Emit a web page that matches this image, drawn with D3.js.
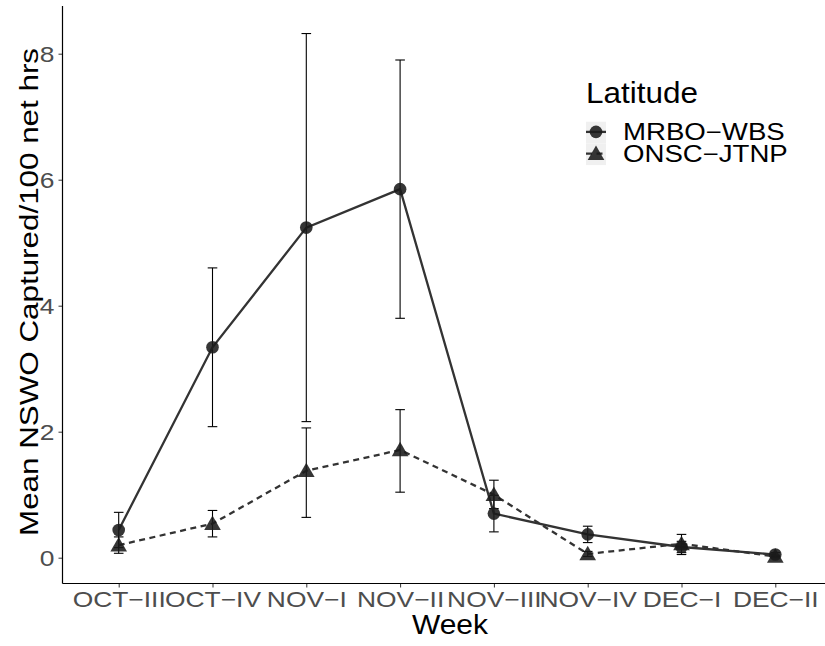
<!DOCTYPE html>
<html><head><meta charset="utf-8">
<script src="https://cdn.jsdelivr.net/npm/d3@7"></script>
<style>body{margin:0;background:#fff}svg{display:block}text{font-family:"Liberation Sans",Arial,Helvetica,sans-serif}</style>
</head><body>
<script>
const weeks = ["OCT\u2212III","OCT\u2212IV","NOV\u2212I","NOV\u2212II","NOV\u2212III","NOV\u2212IV","DEC\u2212I","DEC\u2212II"];
const seriesNames = ["MRBO\u2212WBS","ONSC\u2212JTNP"];
const mrboMean = [0.44, 3.34, 5.24, 5.85, 0.70, 0.37, 0.17, 0.05];
const mrboLow  = [0.16, 2.08, 2.16, 3.80, 0.41, 0.24, 0.08, 0.02];
const mrboHigh = [0.72, 4.60, 8.32, 7.90, 0.99, 0.50, 0.26, 0.08];
const onscMean = [0.20, 0.54, 1.38, 1.71, 1.00, 0.06, 0.22, 0.02];
const onscLow  = [0.07, 0.33, 0.64, 1.04, 0.78, 0.02, 0.05, 0.00];
const onscHigh = [0.33, 0.75, 2.06, 2.35, 1.23, 0.10, 0.37, 0.04];
const yTicks = [0, 2, 4, 6, 8];

const W = 825, H = 646;
const SX = 1.2; // horizontal stretch of the reference typeface
const svg = d3.select("body").append("svg").attr("width", W).attr("height", H);

const panel = {left: 62.5, right: 831.5, top: 6, bottom: 583.5};
const x = d3.scalePoint().domain(weeks).range([118.7, 775.3]);
const y = d3.scaleLinear().domain([0, 8]).range([557.7, 53.7]);

const series = [
  {name: seriesNames[0], mean: mrboMean, lo: mrboLow, hi: mrboHigh, dash: null, shape: d3.symbolCircle, size: 125},
  {name: seriesNames[1], mean: onscMean, lo: onscLow, hi: onscHigh, dash: "6,4.5", shape: d3.symbolTriangle, size: 120}
];

// axes
const xAxis = d3.axisBottom(x).tickSize(4).tickPadding(3);
const gx = svg.append("g").attr("transform", `translate(0,${panel.bottom})`).call(xAxis);
gx.select(".domain").remove();
gx.selectAll(".tick line").attr("stroke", "#333").attr("stroke-width", 1);
gx.selectAll(".tick text").attr("fill", "#4d4d4d").style("font-size", "22px")
  .attr("y", 23.3).attr("dy", null).attr("transform", `scale(${SX},1)`);
svg.append("line").attr("x1", panel.left).attr("x2", W).attr("y1", panel.bottom).attr("y2", panel.bottom)
  .attr("stroke", "#000").attr("stroke-width", 1.2);

const yAxis = d3.axisLeft(y).tickValues(yTicks).tickSize(4).tickPadding(4).tickFormat(d3.format("d"));
const gy = svg.append("g").attr("transform", `translate(${panel.left},0)`).call(yAxis);
gy.select(".domain").remove();
gy.selectAll(".tick line").attr("stroke", "#333").attr("stroke-width", 1);
gy.selectAll(".tick text").attr("fill", "#4d4d4d").style("font-size", "22px")
  .attr("x", -8 / SX).attr("dy", "0.36em").attr("transform", `scale(${SX},1)`);
svg.append("line").attr("x1", panel.left).attr("x2", panel.left).attr("y1", panel.top).attr("y2", panel.bottom)
  .attr("stroke", "#000").attr("stroke-width", 1.2);

// titles
svg.append("text").attr("x", 450).attr("y", 634).attr("text-anchor", "middle")
  .style("font-size", "27px").attr("fill", "#000")
  .attr("textLength", 76).attr("lengthAdjust", "spacingAndGlyphs").text("Week");
svg.append("text").attr("transform", `translate(38,292) rotate(-90)`)
  .attr("text-anchor", "middle").style("font-size", "26.5px").attr("fill", "#000")
  .attr("textLength", 488).attr("lengthAdjust", "spacingAndGlyphs")
  .text("Mean NSWO Captured/100 net hrs");

const plot = svg.append("g");

// error bars
series.forEach(s => {
  const g = plot.append("g");
  weeks.forEach((w, i) => {
    const cx = x(w), hw = 4.8;
    g.append("line").attr("x1", cx).attr("x2", cx).attr("y1", y(s.lo[i])).attr("y2", y(s.hi[i]))
      .attr("stroke", "#000").attr("stroke-width", 1.1);
    [s.lo[i], s.hi[i]].forEach(v => {
      g.append("line").attr("x1", cx - hw).attr("x2", cx + hw).attr("y1", y(v)).attr("y2", y(v))
        .attr("stroke", "#000").attr("stroke-width", 1.1);
    });
  });
});

// lines
const line = d3.line().x((d, i) => x(weeks[i])).y(d => y(d));
series.forEach(s => {
  plot.append("path").datum(s.mean).attr("d", line).attr("fill", "none")
    .attr("stroke", "#333").attr("stroke-width", 2.3)
    .attr("stroke-dasharray", s.dash);
});

// points
series.forEach(s => {
  const sym = d3.symbol().type(s.shape).size(s.size);
  plot.append("g").selectAll("path").data(s.mean).join("path")
    .attr("d", sym)
    .attr("transform", (d, i) => `translate(${x(weeks[i])},${y(d) + (s.shape === d3.symbolTriangle ? 1.5 : 0)})`)
    .attr("fill", "#1a1a1a").attr("fill-opacity", 0.88);
});

// legend
const leg = svg.append("g");
leg.append("text").attr("x", 586).attr("y", 103.3).style("font-size", "29.5px").attr("fill", "#000")
  .attr("textLength", 112).attr("lengthAdjust", "spacingAndGlyphs").text("Latitude");
series.forEach((s, i) => {
  const ky = 121.7 + i * 21.7;
  leg.append("rect").attr("x", 586).attr("y", ky).attr("width", 20).attr("height", 21.7).attr("fill", "#f0f0f0");
  const cy = ky + 10.2;
  leg.append("line").attr("x1", 586).attr("x2", 606).attr("y1", cy).attr("y2", cy)
    .attr("stroke", "#333").attr("stroke-width", 2.3).attr("stroke-dasharray", s.dash);
  leg.append("path").attr("d", d3.symbol().type(s.shape).size(s.size)())
    .attr("transform", `translate(596,${cy + (s.shape === d3.symbolTriangle ? 1.5 : 0)})`)
    .attr("fill", "#1a1a1a").attr("fill-opacity", 0.88);
  leg.append("g").attr("transform", `translate(623,${140 + i * 22.3})`)
    .append("text").attr("transform", `scale(${SX},1)`).style("font-size", "23px")
    .attr("fill", "#000").text(s.name);
});
</script>
</body></html>
